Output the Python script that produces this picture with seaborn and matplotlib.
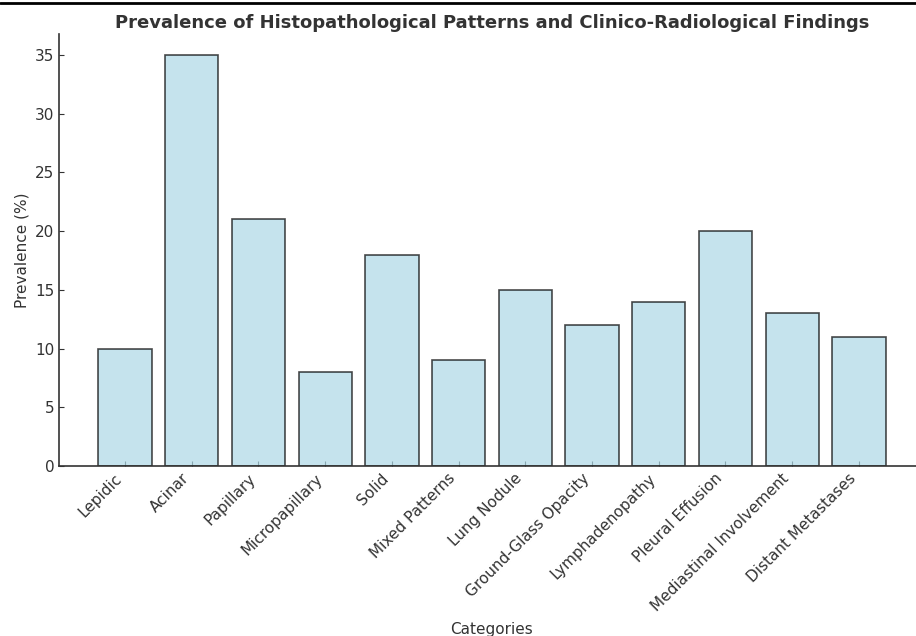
import seaborn as sns
import matplotlib.pyplot as plt
import matplotlib.lines as mlines
import pandas as pd

categories = ['Lepidic', 'Acinar', 'Papillary', 'Micropapillary', 'Solid', 'Mixed Patterns',
              'Lung Nodule', 'Ground-Glass Opacity', 'Lymphadenopathy', 'Pleural Effusion',
              'Mediastinal Involvement', 'Distant Metastases']
prevalence = [10, 35, 21, 8, 18, 9, 15, 12, 14, 20, 13, 11]

df = pd.DataFrame({'Category': categories, 'Prevalence': prevalence})

sns.set_style('ticks')
plt.rcParams['font.family'] = ['DejaVu Sans']

fig = plt.figure(figsize=(9.16, 6.36), dpi=100)
# axes run past the right edge, like the cropped original
ax = fig.add_axes([0.0644, 0.2673, 0.9454, 0.6785])

sns.barplot(data=df, x='Category', y='Prevalence', color='lightblue', alpha=0.7,
            edgecolor='black', linewidth=1.2, width=0.8, saturation=1, ax=ax)
ax.set_xlim(-0.99, len(categories) - 0.01)
ax.set_ylim(0, 36.75)

ax.set_title('Prevalence of Histopathological Patterns and Clinico-Radiological Findings',
             fontsize=13, fontweight='bold', color='#333333', pad=5)
ax.set_xlabel('Categories', fontsize=11, color='#333333', labelpad=6)
ax.set_ylabel('Prevalence (%)', fontsize=11, color='#333333')
ax.tick_params(axis='both', direction='in', labelsize=11, labelcolor='#333333', color='#333333')
plt.setp(ax.get_xticklabels(), rotation=45, ha='right')
sns.despine(ax=ax)
for sp in ['left', 'bottom']:
    ax.spines[sp].set_color('#333333')
    ax.spines[sp].set_linewidth(1.2)

# thin frame line across the top of the crop
fig.add_artist(mlines.Line2D([0, 1], [0.996, 0.996], color='black', linewidth=2,
                             transform=fig.transFigure))

fig.savefig('out.png', dpi=100)
